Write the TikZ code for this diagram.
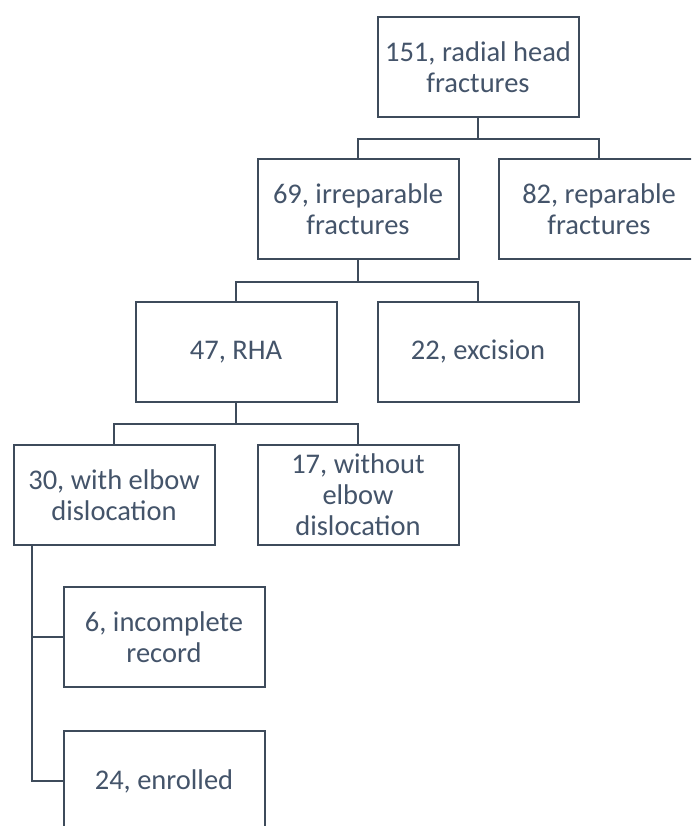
\documentclass[tikz,border=0pt]{standalone}
\usepackage{fontspec}
\setmainfont{Carlito}
\definecolor{boxline}{HTML}{3E4B5B}
\definecolor{boxtext}{HTML}{44546A}
\tikzset{
  flowbox/.style={draw=boxline, line width=2pt, fill=white, minimum width=201pt, minimum height=100pt, inner sep=0pt, align=center, text=boxtext, font=\fontsize{28.5}{31}\selectfont},
  link/.style={draw=boxline, line width=2pt}
}
\begin{document}
\begin{tikzpicture}[x=1pt,y=-1pt]
    \useasboundingbox (0,0) rectangle (691,826);
    \clip (0,0) rectangle (691,826);
    \node[flowbox] (n151) at (478,67) {151, radial head\\fractures};
    \node[flowbox] (n69) at (358,209) {69, irreparable\\fractures};
    \node[flowbox] (n82) at (599,209) {82, reparable\\fractures};
    \node[flowbox] (n47) at (236,352) {47, RHA};
    \node[flowbox] (n22) at (478,352) {22, excision};
    \node[flowbox] (n30) at (114,495) {30, with elbow\\dislocation};
    \node[flowbox] (n17) at (358,495) {17, without\\elbow\\dislocation};
    \node[flowbox] (n6) at (164,637) {6, incomplete\\record};
    \node[flowbox] (n24) at (164,781) {24, enrolled};
    \draw[link] (n151.south) -- ++(0,21) -| (n69.north);
    \draw[link] (n151.south) -- ++(0,21) -| (n82.north);
    \draw[link] (n69.south) -- ++(0,22) -| (n47.north);
    \draw[link] (n69.south) -- ++(0,22) -| (n22.north);
    \draw[link] (n47.south) -- ++(0,21) -| (n30.north);
    \draw[link] (n47.south) -- ++(0,21) -| (n17.north);
    \draw[link] ([xshift=19pt]n30.south west) |- (n6.west);
    \draw[link] ([xshift=19pt]n30.south west) |- (n24.west);
\end{tikzpicture}
\end{document}
